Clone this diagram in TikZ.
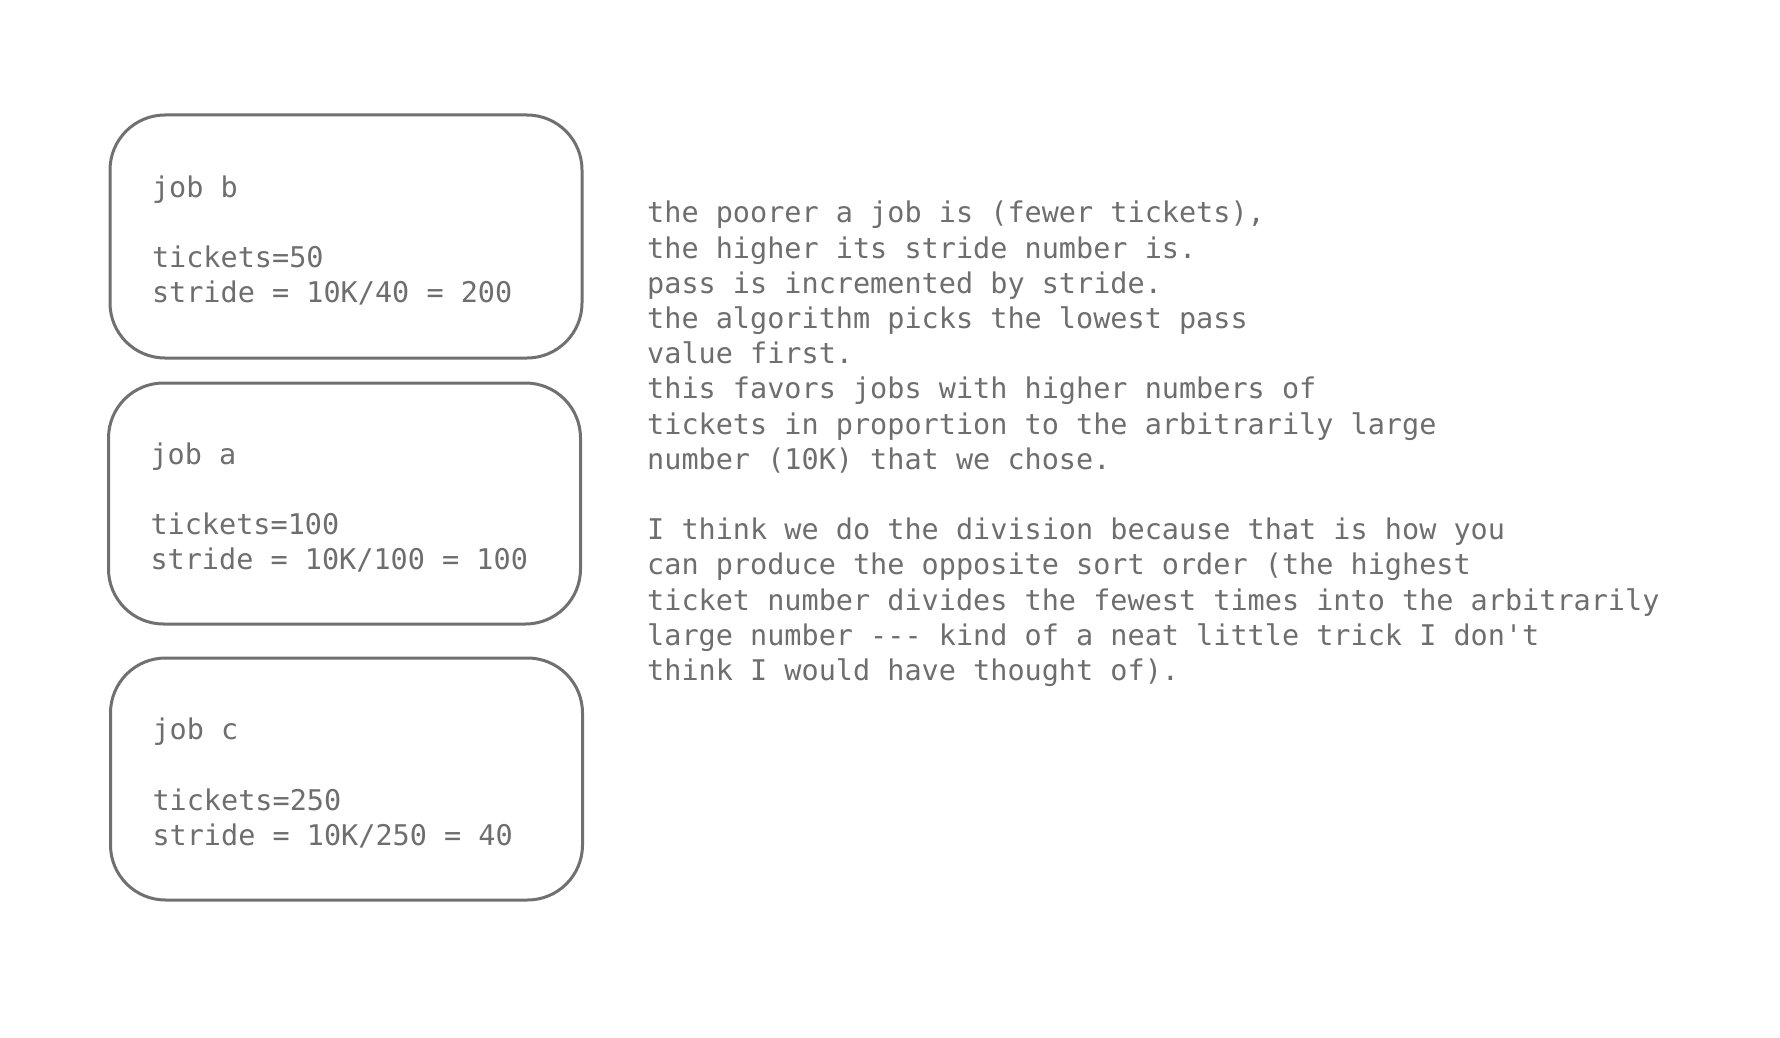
\documentclass[tikz,border=0pt]{standalone}
\usepackage{fontspec}
\setmonofont{DejaVu Sans Mono}
\definecolor{ink}{HTML}{6E6E6E}
\definecolor{edge}{HTML}{707070}
\newcommand{\topgap}{\rule{0pt}{29.6pt}}
\tikzset{
  jobbox/.style={draw=edge, line width=3pt, rounded corners=55pt, fill=white,
    minimum width=472pt, minimum height=243pt, inner xsep=42pt, inner ysep=0pt,
    text width=388pt, align=flush left, text=ink,
    font=\ttfamily\fontsize{28.5}{35.2}\selectfont},
  note/.style={inner sep=0pt, align=left, anchor=north west, text=ink,
    font=\ttfamily\fontsize{28.5}{35.2}\selectfont}
}
\begin{document}
\begin{tikzpicture}[x=1pt,y=-1pt]
\useasboundingbox[fill=white] (0,0) rectangle (1780,1038);
\node[jobbox] (jobb) at (346,236.5) {\topgap job b\\ \mbox{}\\ tickets=50\\ stride = 10K/40 = 200};
\node[jobbox, minimum height=241pt] (joba) at (344.5,503.5) {\topgap job a\\ \mbox{}\\ tickets=100\\ stride = 10K/100 = 100};
\node[jobbox, minimum height=242pt] (jobc) at (346.5,779) {\topgap job c\\ \mbox{}\\ tickets=250\\ stride = 10K/250 = 40};
\node[note] (notes) at (647,198) {\strut the poorer a job is (fewer tickets),\\
the higher its stride number is.\\
pass is incremented by stride.\\
the algorithm picks the lowest pass\\
value first.\\
this favors jobs with higher numbers of\\
tickets in proportion to the arbitrarily large\\
number (10K) that we chose.\\
\mbox{}\\
I think we do the division because that is how you\\
can produce the opposite sort order (the highest\\
ticket number divides the fewest times into the arbitrarily\\
large number -{}-{}- kind of a neat little trick I don't\\
think I would have thought of).};
\end{tikzpicture}
\end{document}
